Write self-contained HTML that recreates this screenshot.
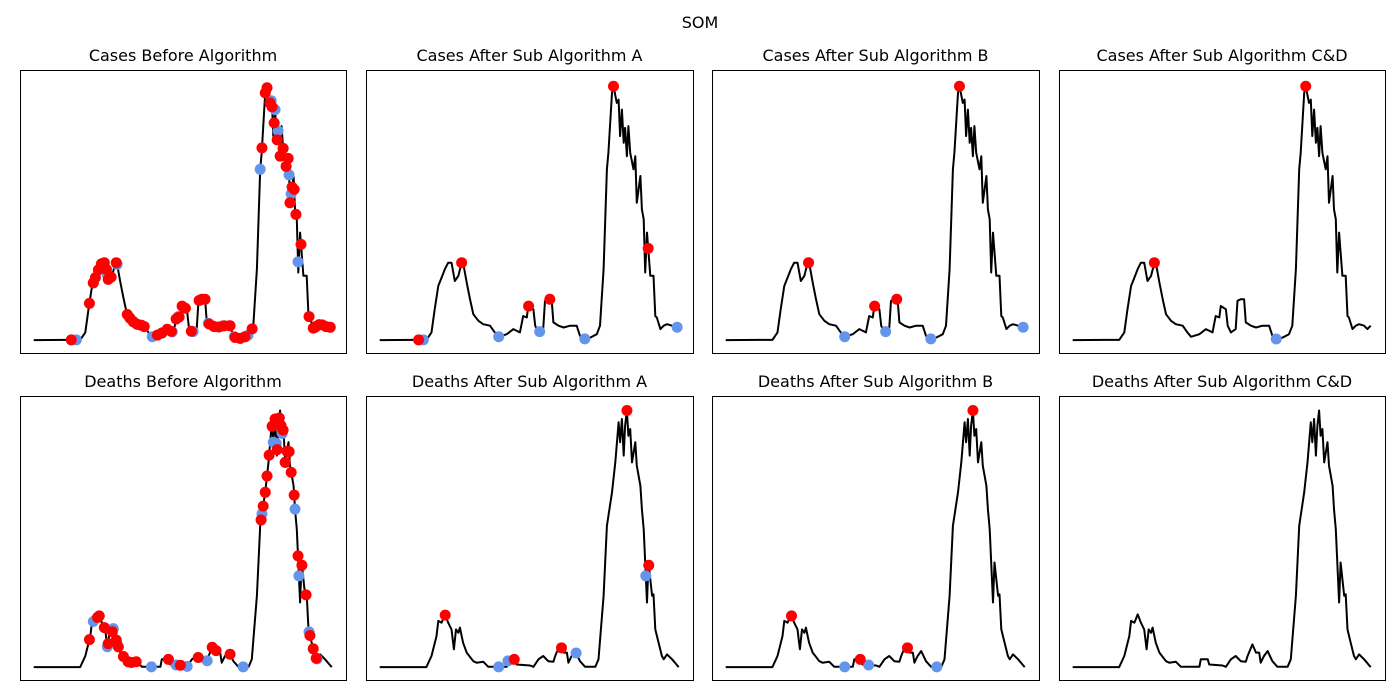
<!DOCTYPE html>
<html><head><meta charset="utf-8">
<style>
body{margin:0;background:#fff;}
#wrap{position:relative;width:1400px;height:700px;overflow:hidden;font-family:"DejaVu Sans","Liberation Sans",sans-serif;}
</style></head>
<body>
<div id="wrap">
<svg id="fig" width="1400" height="700" xmlns="http://www.w3.org/2000/svg">
<text x="700" y="28" text-anchor="middle" font-size="16" font-family="DejaVu Sans, Liberation Sans, sans-serif">SOM</text>
</svg>
</div>
<script>
// Cases series (time in %, value in % of max)
const caseT = [0,11.2,15.6,17.3,18.4,19.6,20.7,21.8,22.9,24,25.1,26.3,27.4,27.9,29.1,30.2,31.3,33,34.6,36.9,38.5,39.7,42.5,44.7,46.9,48,49.2,49.7,51.4,52,53.1,54.7,55.3,56.4,57.5,58.1,59.8,61.5,63.7,65.9,67,68.2,70.4,72.6,73.7,74.9,76,76.5,77.7,78.2,79.3,79.9,80.4,81,81.6,82.1,82.7,83.2,83.8,84.9,85.5,86,87.2,87.7,88.3,88.8,89.4,90.5,91.6,92.2,92.7,93.9,95,96.1,97.8,98.9,100];
const caseV = [0,0.1,0.1,3,12,21.1,24.3,27.6,30.1,30.1,23,25,30.1,30.1,22.4,15.9,10.1,7.5,6.2,5.6,3,1.3,2.3,4.3,3,9.4,8.8,13.3,12,5.6,3,4.3,15.3,15.9,15.9,6.9,5.6,4.9,5.6,5.6,1.7,0.4,1,2.3,5.6,27.6,66.4,72.8,96.1,98.7,92.2,93.5,79.3,89.6,76.7,82.5,71.5,83.2,72.8,66.4,71.5,53.4,63.8,50.8,47,26.3,41.8,25,25,9.4,8.8,4.3,5.6,6.2,5.6,4.3,5.6];
// Deaths series
const deathT = [0,15.6,17.3,19,19.6,20.7,21.8,22.9,24,24.8,25.5,26.3,26.8,27.9,29.1,31.3,32.4,34.6,36.3,42.5,43,45.3,45.8,50.3,51.4,53.1,54.7,56.4,58.1,58.7,60.3,61.5,62.6,63.1,64.2,65.4,67,68.7,72.1,73.2,74.9,76,77.7,78.8,79.9,80.4,81,81.6,82.1,82.7,83.2,83.8,84.4,85.5,86,87.2,87.7,88.3,88.8,89.4,89.9,91.1,91.6,92.2,93.3,94.4,95,96.1,97.8,100];
const deathV = [0,0,4.3,12,17.9,17.2,20.4,17.2,14.6,6.9,14.6,13.3,15.3,9.4,5.6,2.3,1.7,2.1,0.1,0.1,3,3,1,0.6,0.1,3,4.3,2.3,2.1,4.3,8.8,5.6,5.6,1.7,4.3,6.2,2.3,0.1,0.1,3,27.6,54.7,67.7,79.3,94.8,87.1,96.1,81.9,93.5,99.4,89.6,92.2,79.3,87.1,78,70.2,61.2,53.4,40.5,25,40.5,27.6,28.2,14.6,9.4,4.3,3,4.9,3,0];
// Marker times (red = maxima, blue = minima)
const caseBeforeRed = [12.6,18.7,20,20.7,21.7,22.7,23.7,24.4,25,26,27.7,31.4,32.4,33.4,34.8,36.1,37.1,41.5,43.1,44.8,46.2,47.8,48.8,49.8,50.9,52.9,55.5,56.5,57.5,58.9,60.6,62.2,63.9,65.9,67.6,69.3,70.9,73.3,76.6,77.7,78.3,79.3,80,80.7,81.7,82.7,83.7,84.7,85.4,86,86.7,87.4,88,89.7,92.4,93.8,94.8,95.8,96.8,98.1,99.5];
const caseBeforeBlue = [14.3,20,24.7,28,32.1,34.4,36.1,39.8,42.8,46.5,48.5,53.5,56.2,58.6,60.2,63.3,65.6,67.3,69.3,71.9,76,79.7,81,82,83.7,85.7,86.4,88.7,94.4,99.5];
const caseARed = [13,27.4,49.8,56.9,78.2,89.8];
const caseABlue = [14.6,39.8,53.5,68.6,99.5];
const caseBRed = [27.7,49.8,57.2,78.2];
const caseBBlue = [39.8,53.5,68.6,99.5];
const caseCDRed = [27.4,78.2];
const caseCDBlue = [68.3];
const deathBeforeRed = [18.7,21.4,22,23.7,25,26.4,27.7,28.4,30.1,31.7,32.8,34.4,45.2,49.2,55.2,59.9,61.2,65.9,76.3,77,77.7,78.3,79,80,81,81.7,82.4,83,83.7,84.4,85,85.7,86.4,87.4,88.7,90,91.4,92.7,93.8,94.8];
const deathBeforeBlue = [20,24.7,26.7,28,31.7,39.5,47.8,51.5,58.2,70.3,76.6,80.4,81.4,82.4,83.4,84.4,85.7,87.7,89,92.4,95.1];
const deathARed = [21.9,45,60.8,82.7,90];
const deathABlue = [39.8,42.9,65.7,89];
const deathBRed = [22,45,60.8,82.7];
const deathBBlue = [39.8,47.8,70.6];
const deathCDRed = [];
const deathCDBlue = [];

const titles = ["Cases Before Algorithm","Cases After Sub Algorithm A","Cases After Sub Algorithm B","Cases After Sub Algorithm C&D",
"Deaths Before Algorithm","Deaths After Sub Algorithm A","Deaths After Sub Algorithm B","Deaths After Sub Algorithm C&D"];

const NS="http://www.w3.org/2000/svg";
const svg=document.getElementById('fig');
const cols=[[20,346],[366,693],[712,1039],[1059,1385]];
const rows=[[70,353],[396,680]];
const T0=-4.6,T1=104.8,V0=-5,V1=105;

function interp(T,V,t){
  if(t<=T[0])return V[0];
  for(let i=1;i<T.length;i++){ if(t<=T[i]){const f=(t-T[i-1])/(T[i]-T[i-1]);return V[i-1]+f*(V[i]-V[i-1]);} }
  return V[V.length-1];
}
const panels=[
 [caseT,caseV,caseBeforeRed,caseBeforeBlue],[caseT,caseV,caseARed,caseABlue],[caseT,caseV,caseBRed,caseBBlue],[caseT,caseV,caseCDRed,caseCDBlue],
 [deathT,deathV,deathBeforeRed,deathBeforeBlue],[deathT,deathV,deathARed,deathABlue],[deathT,deathV,deathBRed,deathBBlue],[deathT,deathV,deathCDRed,deathCDBlue]];

panels.forEach((p,k)=>{
  const [L,R]=cols[k%4],[Tp,B]=rows[Math.floor(k/4)];
  const xs=t=>L+(t-T0)/(T1-T0)*(R-L);
  const ys=v=>B-(v-V0)/(V1-V0)*(B-Tp);
  const g=document.createElementNS(NS,'g');
  
  
  svg.appendChild(g);
  const title=document.createElementNS(NS,'text');
  title.setAttribute('x',(L+R)/2);title.setAttribute('y',Tp-9);
  title.setAttribute('text-anchor','middle');title.setAttribute('font-size','16');
  title.setAttribute('font-family','DejaVu Sans, Liberation Sans, sans-serif');
  title.textContent=titles[k];
  
  
  g.appendChild(title);
  const [T,V,red,blue]=p;
  const line=document.createElementNS(NS,'polyline');
  line.setAttribute('points',T.map((t,i)=>xs(t).toFixed(1)+','+ys(V[i]).toFixed(1)).join(' '));
  line.setAttribute('fill','none');line.setAttribute('stroke','#000');line.setAttribute('stroke-width','2');
  line.setAttribute('stroke-linejoin','round');
  
  
  g.appendChild(line);
  blue.forEach(t=>{
    const c=document.createElementNS(NS,'circle');
    c.setAttribute('cx',xs(t));c.setAttribute('cy',ys(interp(T,V,t)));c.setAttribute('r','5.5');c.setAttribute('fill','#6495ED');
    
    
    g.appendChild(c);
  });
  red.forEach(t=>{
    const c=document.createElementNS(NS,'circle');
    c.setAttribute('cx',xs(t));c.setAttribute('cy',ys(interp(T,V,t)));c.setAttribute('r','5.5');c.setAttribute('fill','#ff0000');
    
    
    g.appendChild(c);
  });
  const box=document.createElementNS(NS,'rect');
  box.setAttribute('x',L+0.5);box.setAttribute('y',Tp+0.5);box.setAttribute('width',R-L);box.setAttribute('height',B-Tp);
  box.setAttribute('fill','none');box.setAttribute('stroke','#000');box.setAttribute('stroke-width','1');
  
  
  g.appendChild(box);
});
</script>
</body></html>
